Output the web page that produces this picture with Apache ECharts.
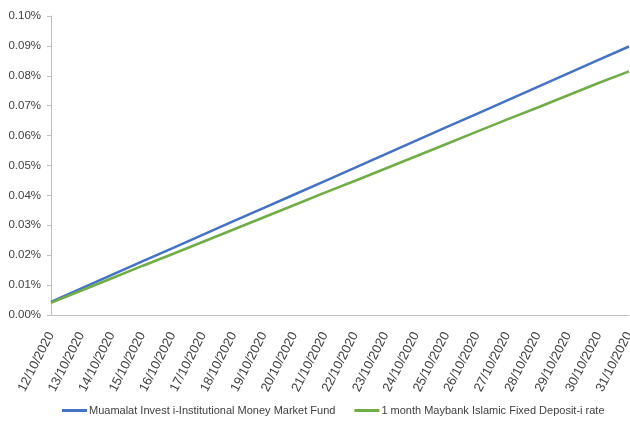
<!DOCTYPE html>
<html><head><meta charset="utf-8">
<script src="https://cdn.jsdelivr.net/npm/echarts@6/dist/echarts.min.js"></script>
<style>html,body{margin:0;padding:0;background:#fff}#c{width:630px;height:431px}</style>
</head><body><div id="c"></div>
<script>
var categories = ["12/10/2020","13/10/2020","14/10/2020","15/10/2020","16/10/2020","17/10/2020","18/10/2020","19/10/2020","20/10/2020","21/10/2020","22/10/2020","23/10/2020","24/10/2020","25/10/2020","26/10/2020","27/10/2020","28/10/2020","29/10/2020","30/10/2020","31/10/2020"];
var muamalat = [0.0044,0.0089,0.0134,0.0179,0.0224,0.0269,0.0314,0.0358,0.0403,0.0448,0.0493,0.0538,0.0583,0.0628,0.0673,0.0718,0.0763,0.0808,0.0853,0.0898];
var maybank = [0.0041,0.0082,0.0123,0.0164,0.0204,0.0245,0.0286,0.0327,0.0368,0.0409,0.0449,0.0490,0.0531,0.0572,0.0613,0.0654,0.0694,0.0735,0.0776,0.0815];
var seriesNames = ["Muamalat Invest i-Institutional Money Market Fund","1 month Maybank Islamic Fixed Deposit-i rate"];
var FONT = "'Liberation Sans',Arial,sans-serif";
var chart = echarts.init(document.getElementById('c'));
chart.setOption({
  animation:false,
  grid:{left:51,right:1,top:16,bottom:116,containLabel:false,outerBoundsMode:'none'},
  legend:{
    top:400,left:57,itemGap:19,itemWidth:25,itemHeight:3,icon:'rect',
    textStyle:{color:'#404040',fontFamily:FONT,fontSize:11,padding:[0,0,0,-3]},
    data:seriesNames
  },
  xAxis:{
    type:'category',boundaryGap:false,data:categories,
    axisLine:{lineStyle:{color:'#bfbfbf'}},
    axisTick:{show:false},
    axisLabel:{rotate:63,interval:0,color:'#404040',fontFamily:FONT,fontSize:13,margin:18,hideOverlap:false}
  },
  yAxis:{
    type:'value',min:0,max:0.1,interval:0.01,
    axisLine:{show:true,lineStyle:{color:'#bfbfbf'}},
    axisTick:{show:true,length:4,lineStyle:{color:'#bfbfbf'}},
    splitLine:{show:false},
    axisLabel:{color:'#404040',fontFamily:FONT,fontSize:11.5,margin:10,formatter:function(v){return v.toFixed(2)+'%';}}
  },
  series:[
    {name:seriesNames[0],type:'line',data:muamalat,symbol:'none',lineStyle:{color:'#4472C4',width:2.5},itemStyle:{color:'#4472C4'}},
    {name:seriesNames[1],type:'line',data:maybank,symbol:'none',lineStyle:{color:'#70AD47',width:2.5},itemStyle:{color:'#70AD47'}}
  ]
});
</script></body></html>
